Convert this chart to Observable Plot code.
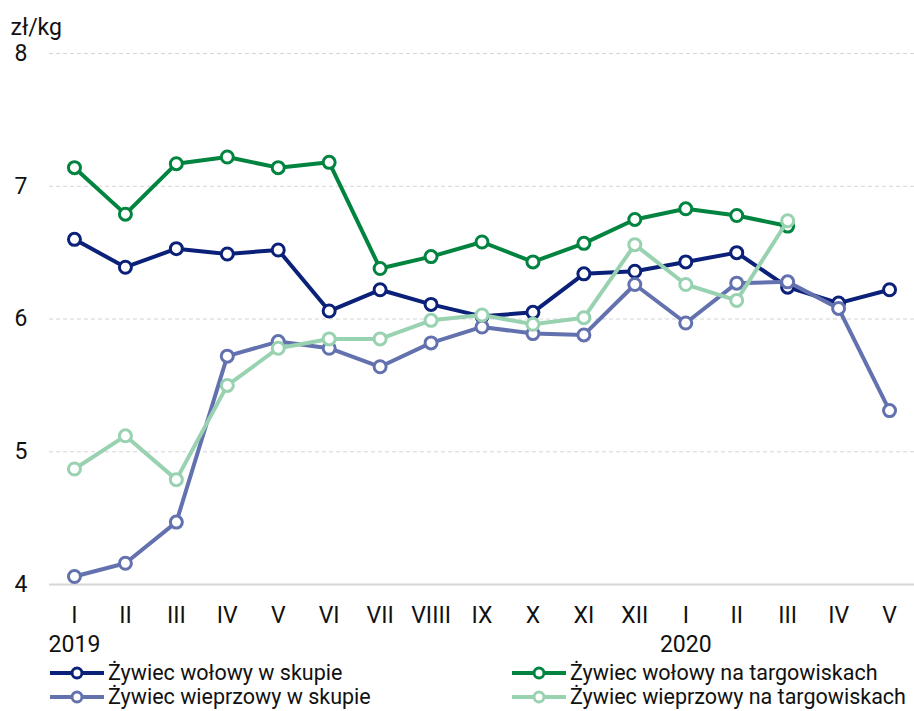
<!DOCTYPE html>
<html>
<head>
<meta charset="utf-8">
<script src="https://cdn.jsdelivr.net/npm/d3@7"></script>
<script src="https://cdn.jsdelivr.net/npm/@observablehq/plot@0.6"></script>
<style>
  html, body { margin: 0; padding: 0; background: #fff; }
  body { width: 914px; height: 711px; overflow: hidden; }
  body, svg, text { font-family: Roboto, "Noto Sans", sans-serif !important; }
  #legend { position: relative; height: 48px; top: -1px; font-size: 21.5px; color: #111; }
  .item { position: absolute; display: flex; align-items: center; white-space: nowrap; line-height: 24px; }
  .item svg { margin-right: 4px; }
</style>
</head>
<body>
<div id="chart"></div>
<div id="legend"></div>
<script>
const months = ["I","II","III","IV","V","VI","VII","VIIII","IX","X","XI","XII","I","II","III","IV","V"];
const years = [{i: 0, label: "2019"}, {i: 12, label: "2020"}];
const yTicks = [4, 5, 6, 7, 8];
const unit = "zł/kg";

const seriesNames = [
  "Żywiec wołowy w skupie",
  "Żywiec wołowy na targowiskach",
  "Żywiec wieprzowy w skupie",
  "Żywiec wieprzowy na targowiskach"
];
const seriesColors = ["#0b2179", "#00843f", "#6372ae", "#99d2b1"];

const wolowySkup = [6.60, 6.39, 6.53, 6.49, 6.52, 6.06, 6.22, 6.11, 6.02, 6.05, 6.34, 6.36, 6.43, 6.50, 6.24, 6.12, 6.22];
const wolowyTarg = [7.14, 6.79, 7.17, 7.22, 7.14, 7.18, 6.38, 6.47, 6.58, 6.43, 6.57, 6.75, 6.83, 6.78, 6.70, null, null];
const wieprzSkup = [4.06, 4.16, 4.47, 5.72, 5.83, 5.78, 5.64, 5.82, 5.94, 5.89, 5.88, 6.26, 5.97, 6.27, 6.28, 6.08, 5.31];
const wieprzTarg = [4.87, 5.12, 4.79, 5.50, 5.78, 5.85, 5.85, 5.99, 6.03, 5.96, 6.01, 6.56, 6.26, 6.14, 6.74, null, null];

const drawOrder = [1, 0, 2, 3];

function toRows(values, k) {
  return values.map((v, i) => ({i, v, s: seriesNames[k]})).filter(d => d.v != null);
}
const rowsBySeries = [wolowySkup, wolowyTarg, wieprzSkup, wieprzTarg].map((vals, k) => toRows(vals, k));

const marks = [
  Plot.ruleY(yTicks.filter(t => t > 4), {stroke: "#d4d4d4", strokeWidth: 1, strokeDasharray: "4,3"}),
  Plot.ruleY([4], {stroke: "#d6d6d6", strokeWidth: 2}),
  Plot.axisY({ticks: yTicks, tickSize: 0, tickPadding: 22, fontSize: 23, label: null, tickFormat: d3.format("d")}),
  Plot.axisX({tickSize: 0, tickPadding: 22, fontSize: 23, label: null, tickFormat: i => months[i]}),
  Plot.text(years, {x: "i", y: () => 4, text: "label", dy: 60, fontSize: 23, fill: "#111"}),
  Plot.text([unit], {frameAnchor: "top-left", dx: -39, dy: -26, textAnchor: "start", lineAnchor: "middle", fontSize: 23, fill: "#111"})
];
for (const k of drawOrder) {
  const rows = rowsBySeries[k];
  marks.push(Plot.line(rows, {x: "i", y: "v", stroke: seriesColors[k], strokeWidth: 4}));
  marks.push(Plot.dot(rows, {x: "i", y: "v", r: 6, stroke: seriesColors[k], strokeWidth: 3, fill: "white"}));
}

const chart = Plot.plot({
  width: 914,
  height: 662,
  marginTop: 53,
  marginBottom: 78,
  marginLeft: 49,
  marginRight: 0,
  style: {fontFamily: "Roboto, sans-serif", color: "#111", background: "white"},
  x: {type: "point", domain: d3.range(months.length), padding: 0.49, round: false},
  y: {domain: [4, 8]},
  marks
});
document.getElementById("chart").appendChild(chart);

const legend = document.getElementById("legend");
const legendPos = [[50, 0], [512, 0], [50, 24], [512, 24]];
seriesNames.forEach((name, k) => {
  const div = document.createElement("div");
  div.className = "item";
  div.style.left = legendPos[k][0] + "px";
  div.style.top = legendPos[k][1] + "px";
  div.innerHTML = `<svg width="54" height="14"><line x1="0" x2="54" y1="7" y2="7" stroke="${seriesColors[k]}" stroke-width="4"/><circle cx="27" cy="7" r="5" fill="white" stroke="${seriesColors[k]}" stroke-width="3"/></svg><span>${name}</span>`;
  legend.appendChild(div);
});
</script>
</body>
</html>
